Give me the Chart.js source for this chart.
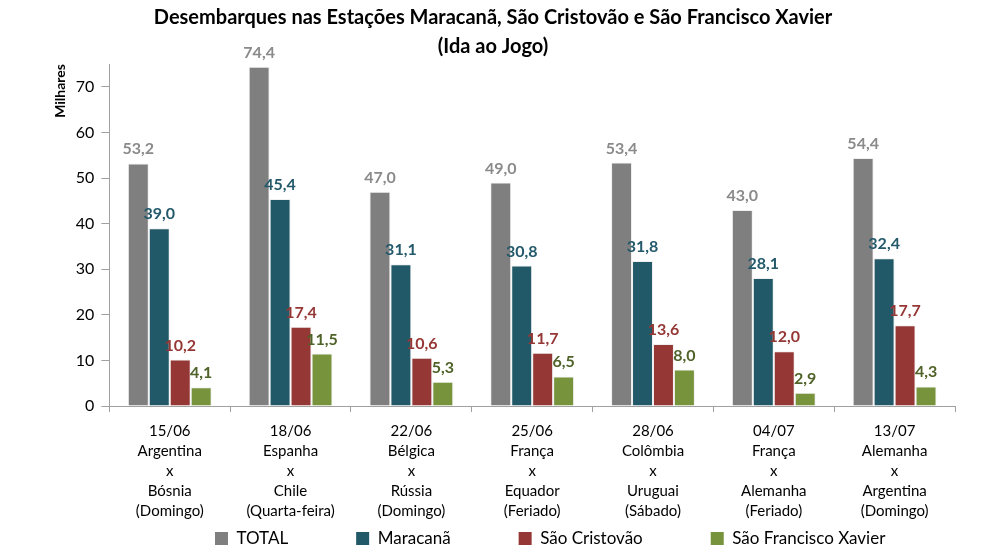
<!DOCTYPE html>
<html>
<head>
<meta charset="utf-8">
<script src="https://cdn.jsdelivr.net/npm/chart.js@4/dist/chart.umd.min.js"></script>
<style>
html,body{margin:0;padding:0;background:#fff;}
#wrap{width:986px;height:552px;}
</style>
</head>
<body>
<div id="wrap"><canvas id="c" width="986" height="552"></canvas></div>
<script>
const categories = [
  ['15/06','Argentina','x','Bósnia','(Domingo)'],
  ['18/06','Espanha','x','Chile','(Quarta-feira)'],
  ['22/06','Bélgica','x','Rússia','(Domingo)'],
  ['25/06','França','x','Equador','(Feriado)'],
  ['28/06','Colômbia','x','Uruguai','(Sábado)'],
  ['04/07','França','x','Alemanha','(Feriado)'],
  ['13/07','Alemanha','x','Argentina','(Domingo)']
];
const total = [53.2, 74.4, 47.0, 49.0, 53.4, 43.0, 54.4];
const maracana = [39.0, 45.4, 31.1, 30.8, 31.8, 28.1, 32.4];
const saoCristovao = [10.2, 17.4, 10.6, 11.7, 13.6, 12.0, 17.7];
const saoFranciscoXavier = [4.1, 11.5, 5.3, 6.5, 8.0, 2.9, 4.3];
const yTickValues = [0, 10, 20, 30, 40, 50, 60, 70];
const titleLines = ['Desembarques nas Estações Maracanã, São Cristovão e São Francisco Xavier', '(Ida ao Jogo)'];
const seriesNames = ['TOTAL', 'Maracanã', 'São Cristovão', 'São Francisco Xavier'];

const FONT = 'Lato, "Open Sans", sans-serif';
const barColors = ['#7f7f7f', '#215968', '#953735', '#77933c'];
const labelColors = ['#8a8a8a', '#23596a', '#953735', '#4f6228'];

const valueLabels = {
  id: 'valueLabels',
  afterDatasetsDraw(chart) {
    const ctx = chart.ctx;
    ctx.save();
    ctx.font = 'bold 16px ' + FONT;
    ctx.textAlign = 'center';
    ctx.textBaseline = 'alphabetic';
    chart.data.datasets.forEach((ds, i) => {
      const meta = chart.getDatasetMeta(i);
      ctx.fillStyle = labelColors[i];
      meta.data.forEach((el, j) => {
        const txt = ds.data[j].toFixed(1).replace('.', ',');
        ctx.fillText(txt, el.x, el.y - 9);
      });
    });
    ctx.restore();
  }
};

const LEGEND_PAD = 68;
const layoutShift = {
  id: 'layoutShift',
  afterLayout(chart) {
    const l = chart.legend;
    if (l) { l.left += 18; l.right += 18; l.top -= LEGEND_PAD; }
    const t = chart.titleBlock;
    if (t) { t.right += 31; }
  }
};

const barBorder = { borderWidth: 1, borderColor: 'rgba(235,235,235,0.75)' };

new Chart(document.getElementById('c'), {
  type: 'bar',
  data: {
    labels: categories,
    datasets: [
      Object.assign({ label: seriesNames[0], data: total, backgroundColor: barColors[0] }, barBorder),
      Object.assign({ label: seriesNames[1], data: maracana, backgroundColor: barColors[1] }, barBorder),
      Object.assign({ label: seriesNames[2], data: saoCristovao, backgroundColor: barColors[2] }, barBorder),
      Object.assign({ label: seriesNames[3], data: saoFranciscoXavier, backgroundColor: barColors[3] }, barBorder)
    ]
  },
  options: {
    responsive: false,
    animation: false,
    devicePixelRatio: 1,
    datasets: { bar: { categoryPercentage: 0.694, barPercentage: 1.0 } },
    layout: { padding: { left: 0, right: 31, top: 0, bottom: 0 } },
    plugins: {
      title: {
        display: true,
        text: titleLines,
        color: '#000',
        font: { family: FONT, size: 20, weight: 'bold', lineHeight: 1.45 },
        padding: { top: 3, bottom: 3 }
      },
      legend: {
        position: 'bottom',
        fullSize: false,
        maxHeight: 22,
        labels: {
          color: '#000',
          font: { family: FONT, size: 17 },
          boxWidth: 13,
          boxHeight: 13,
          padding: LEGEND_PAD,
          generateLabels(chart) {
            return chart.data.datasets.map((ds, i) => ({
              text: ds.label,
              fillStyle: barColors[i],
              strokeStyle: barColors[i],
              lineWidth: 0,
              hidden: false,
              datasetIndex: i,
              fontColor: '#000'
            }));
          }
        }
      },
      tooltip: { enabled: false }
    },
    scales: {
      x: {
        grid: { display: true, drawOnChartArea: false, drawTicks: true, tickLength: 6, color: '#a0a0a0', offset: true },
        border: { display: true, color: '#a0a0a0' },
        ticks: { color: '#000', font: { family: FONT, size: 15, lineHeight: 1.333 }, padding: 9, maxRotation: 0, autoSkip: false }
      },
      y: {
        min: 0,
        max: 75,
        afterBuildTicks(scale) { scale.ticks = yTickValues.map(v => ({ value: v })); },
        grid: { display: true, drawOnChartArea: false, drawTicks: true, tickLength: 8, color: '#a0a0a0' },
        border: { display: true, color: '#a0a0a0' },
        ticks: { color: '#000', font: { family: FONT, size: 16 }, padding: 7 },
        title: {
          display: true,
          text: 'Milhares',
          align: 'end',
          color: '#000',
          font: { family: FONT, size: 14, weight: 'bold' },
          padding: { top: 52, bottom: 0 }
        }
      }
    }
  },
  plugins: [valueLabels, layoutShift]
});
</script>
</body>
</html>
